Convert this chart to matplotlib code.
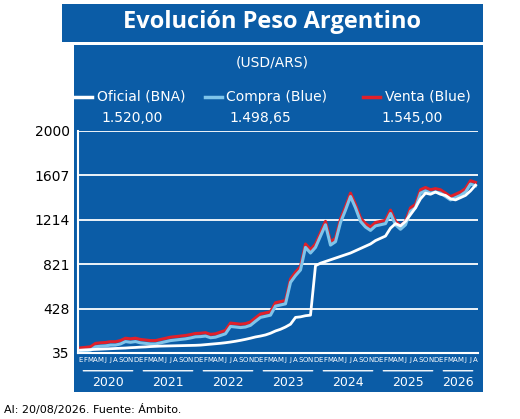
import numpy as np
import matplotlib.pyplot as plt
from matplotlib.patches import Rectangle

# monthly values, Jan 2020 .. Aug 2026
oficial = [60, 63, 65, 67, 69, 71, 73, 75, 77, 79, 82, 84,
           87, 89, 92, 94, 96, 97, 98, 99, 100, 101, 102, 103,
           105, 109, 113, 117, 121, 126, 132, 139, 147, 156, 166, 177,
           185, 195, 210, 230, 245, 265, 290, 350, 355, 365, 370, 808,
           830, 845, 860, 875, 890, 905, 920, 940, 960, 980, 1000, 1030,
           1050, 1070, 1140, 1180, 1160, 1200, 1260, 1320, 1400, 1450, 1440, 1460,
           1440, 1430, 1400, 1390, 1410, 1430, 1470, 1520]
venta = [80, 85, 90, 120, 125, 128, 135, 135, 145, 166, 160, 166,
         155, 150, 145, 145, 155, 165, 175, 180, 185, 190, 198, 208,
         210, 215, 200, 205, 220, 235, 300, 295, 290, 295, 310, 346,
         380, 390, 400, 480, 490, 500, 690, 750, 800, 1000, 950, 1000,
         1100, 1200, 1020, 1050, 1220, 1330, 1450, 1350, 1230, 1180, 1150, 1190,
         1200, 1210, 1300, 1200, 1160, 1200, 1320, 1350, 1480, 1500, 1480, 1490,
         1480, 1450, 1420, 1440, 1460, 1490, 1560, 1545]
compra = [v - 30 for v in venta]
months = "EFMAMJJASOND" * 6 + "EFMAMJJA"
years = ["2020", "2021", "2022", "2023", "2024", "2025", "2026"]
yticks = [35, 428, 821, 1214, 1607, 2000]

blue = "#0b5ca6"
fig = plt.figure(figsize=(5.2, 4.19), dpi=100)
fig.patches.append(Rectangle((74/520, 1-392/419), 409/520, 347/419, transform=fig.transFigure,
                             facecolor=blue, edgecolor="none", zorder=-5))
fig.patches.append(Rectangle((62/520, 1-42/419), 421/520, 38/419, transform=fig.transFigure,
                             facecolor=blue, edgecolor="none", zorder=-5))
fig.text(272/520, 1-22/419, "Evolución Peso Argentino", color="white", ha="center", va="center",
         fontsize=17, fontweight="bold", family="Open Sans")
fig.text(272/520, 1-63/419, "(USD/ARS)", color="white", ha="center", va="center", fontsize=10)

# legend
fig.add_artist(plt.Line2D([75/520, 92/520], [1-97/419]*2, color="white", lw=2.5, transform=fig.transFigure))
fig.add_artist(plt.Line2D([205/520, 222/520], [1-97/419]*2, color="#7fc4ea", lw=2.5, transform=fig.transFigure))
fig.add_artist(plt.Line2D([363/520, 380/520], [1-97/419]*2, color="#e0202a", lw=2.5, transform=fig.transFigure))
for xx, lab in [(97, "Oficial (BNA)"), (226, "Compra (Blue)"), (385, "Venta (Blue)")]:
    fig.text(xx/520, 1-97/419, lab, color="white", va="center", fontsize=10)
for xx, val in [(132, "1.520,00"), (260, "1.498,65"), (412, "1.545,00")]:
    fig.text(xx/520, 1-118/419, val, color="white", va="center", ha="center", fontsize=10)

ax = fig.add_axes([78/520, 1-353/419, 400/520, 222/419], zorder=2)
ax.set_facecolor("none")
x = np.arange(len(venta))
ax.plot(x, venta, color="#e0202a", lw=2.2)
ax.plot(x, compra, color="#7fc4ea", lw=2.2)
ax.plot(x, oficial, color="white", lw=2)
ax.set_xlim(-0.5, len(venta) - 0.5)
ax.set_ylim(35, 2000)
ax.set_yticks(yticks)
ax.set_yticklabels([str(t) for t in yticks], fontsize=10)
for t in yticks[1:]:
    ax.axhline(t, color="white", lw=1.3, zorder=0)
ax.set_xticks(x)
ax.set_xticklabels(list(months), fontsize=5, color="white")
ax.tick_params(axis="x", length=0, pad=3)
ax.tick_params(axis="y", length=0, pad=6)
for s in ["top", "right"]:
    ax.spines[s].set_visible(False)
for s in ["left", "bottom"]:
    ax.spines[s].set_color("white")
    ax.spines[s].set_linewidth(1.5)
for i, yr in enumerate(years):
    start = i * 12
    end = min(start + 12, len(venta))
    ax.annotate("", xy=(start, -0.08), xytext=(end - 1, -0.08), xycoords=("data", "axes fraction"),
                arrowprops=dict(arrowstyle="-", color="white", lw=1))
    ax.text((start + end - 1) / 2, -0.135, yr, transform=ax.get_xaxis_transform(), color="white",
            ha="center", va="center", fontsize=9)
fig.text(4/520, 1-409/419, "Al: 20/08/2026. Fuente: Ámbito.", fontsize=8, va="center")
fig.savefig("out.png", dpi=100)
